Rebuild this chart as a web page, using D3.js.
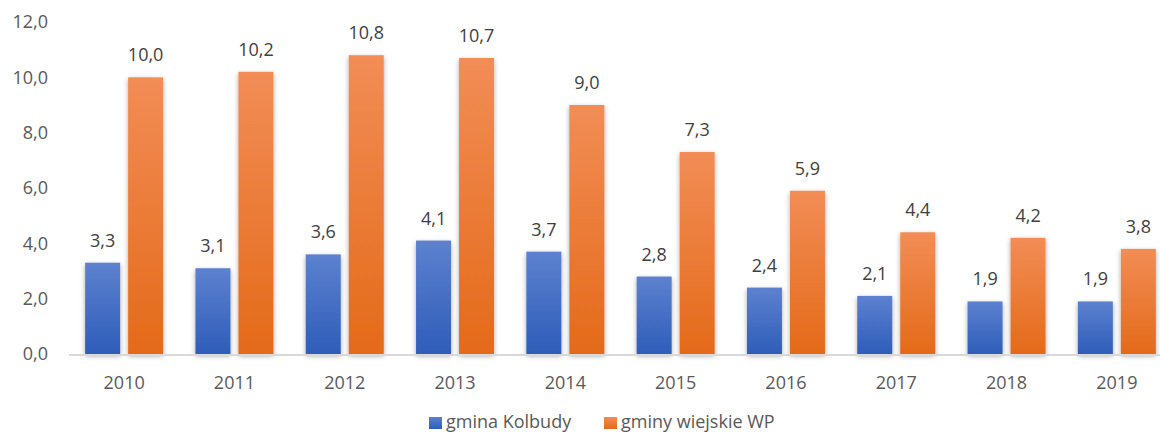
<!DOCTYPE html>
<html>
<head>
<meta charset="utf-8">
<script src="https://cdn.jsdelivr.net/npm/d3@7"></script>
<style>
  body { margin: 0; background: #fff; }
  text { font-family: "Open Sans", sans-serif; }
</style>
</head>
<body>
<script>
var years = ["2010", "2011", "2012", "2013", "2014", "2015", "2016", "2017", "2018", "2019"];
var kolbudy = [3.3, 3.1, 3.6, 4.1, 3.7, 2.8, 2.4, 2.1, 1.9, 1.9];
var wiejskie = [10.0, 10.2, 10.8, 10.7, 9.0, 7.3, 5.9, 4.4, 4.2, 3.8];
var seriesNames = ["gmina Kolbudy", "gminy wiejskie WP"];
var yTicks = [0, 2, 4, 6, 8, 10, 12];

var width = 1160,
    height = 434;

var svg = d3.select("body").append("svg")
    .attr("width", width)
    .attr("height", height);

var defs = svg.append("defs");

function grad(id, top, bottom) {
  var g = defs.append("linearGradient")
      .attr("id", id)
      .attr("x1", 0).attr("y1", 0).attr("x2", 0).attr("y2", 1);
  g.append("stop").attr("offset", "0%").attr("stop-color", top);
  g.append("stop").attr("offset", "100%").attr("stop-color", bottom);
}
grad("gBlue", "#5D81CF", "#2E5DB9");
grad("gOrange", "#F28D56", "#E46A19");

var f = defs.append("filter").attr("id", "shadow")
    .attr("x", "-30%").attr("y", "-10%").attr("width", "160%").attr("height", "130%");
f.append("feDropShadow")
    .attr("dx", 0).attr("dy", 2)
    .attr("stdDeviation", 2.5)
    .attr("flood-color", "#000")
    .attr("flood-opacity", 0.35);

var x = d3.scaleBand()
    .domain(years)
    .range([69, 1172]);

var y = d3.scaleLinear()
    .domain([0, 12])
    .range([354, 22]);

var barW = 35, gap = 8;

// y axis labels
svg.append("g").selectAll("text")
    .data(yTicks)
  .enter().append("text")
    .attr("x", 48)
    .attr("y", function(d) { return y(d); })
    .attr("dy", "0.35em")
    .attr("text-anchor", "end")
    .attr("font-size", 18)
    .attr("fill", "#595959")
    .text(function(d) { return d3.format(".1f")(d).replace(".", ","); });

// bars
var groups = svg.append("g").selectAll("g")
    .data(years)
  .enter().append("g")
    .attr("transform", function(d) { return "translate(" + (x(d) + x.bandwidth() / 2) + ",0)"; });

groups.append("rect")
    .attr("x", -gap / 2 - barW)
    .attr("y", function(d, i) { return y(kolbudy[i]); })
    .attr("width", barW)
    .attr("height", function(d, i) { return y(0) - y(kolbudy[i]); })
    .attr("fill", "url(#gBlue)")
    .attr("filter", "url(#shadow)");

groups.append("rect")
    .attr("x", gap / 2)
    .attr("y", function(d, i) { return y(wiejskie[i]); })
    .attr("width", barW)
    .attr("height", function(d, i) { return y(0) - y(wiejskie[i]); })
    .attr("fill", "url(#gOrange)")
    .attr("filter", "url(#shadow)");

// baseline
svg.append("line")
    .attr("x1", 69).attr("x2", width)
    .attr("y1", y(0) + 1).attr("y2", y(0) + 1)
    .attr("stroke", "#D9D9D9")
    .attr("stroke-width", 2);

// value labels
function fmt(v) { return d3.format(".1f")(v).replace(".", ","); }

groups.append("text")
    .attr("x", -gap / 2 - barW / 2)
    .attr("y", function(d, i) { return y(kolbudy[i]) - 16; })
    .attr("text-anchor", "middle")
    .attr("font-size", 18)
    .attr("fill", "#404040")
    .text(function(d, i) { return fmt(kolbudy[i]); });

groups.append("text")
    .attr("x", gap / 2 + barW / 2)
    .attr("y", function(d, i) { return y(wiejskie[i]) - 16; })
    .attr("text-anchor", "middle")
    .attr("font-size", 18)
    .attr("fill", "#404040")
    .text(function(d, i) { return fmt(wiejskie[i]); });

// year labels
groups.append("text")
    .attr("y", 389)
    .attr("text-anchor", "middle")
    .attr("font-size", 18)
    .attr("fill", "#595959")
    .text(function(d) { return d; });

// legend
var legX = [429, 604];
var legend = svg.append("g").selectAll("g")
    .data(seriesNames)
  .enter().append("g")
    .attr("transform", function(d, i) { return "translate(" + legX[i] + ",416)"; });

legend.append("rect")
    .attr("y", 1)
    .attr("width", 13).attr("height", 12)
    .attr("fill", function(d, i) { return i === 0 ? "url(#gBlue)" : "url(#gOrange)"; });

legend.append("text")
    .attr("x", 17)
    .attr("y", 6)
    .attr("dy", "0.35em")
    .attr("font-size", 18)
    .attr("fill", "#595959")
    .text(function(d) { return d; });
</script>
</body>
</html>
